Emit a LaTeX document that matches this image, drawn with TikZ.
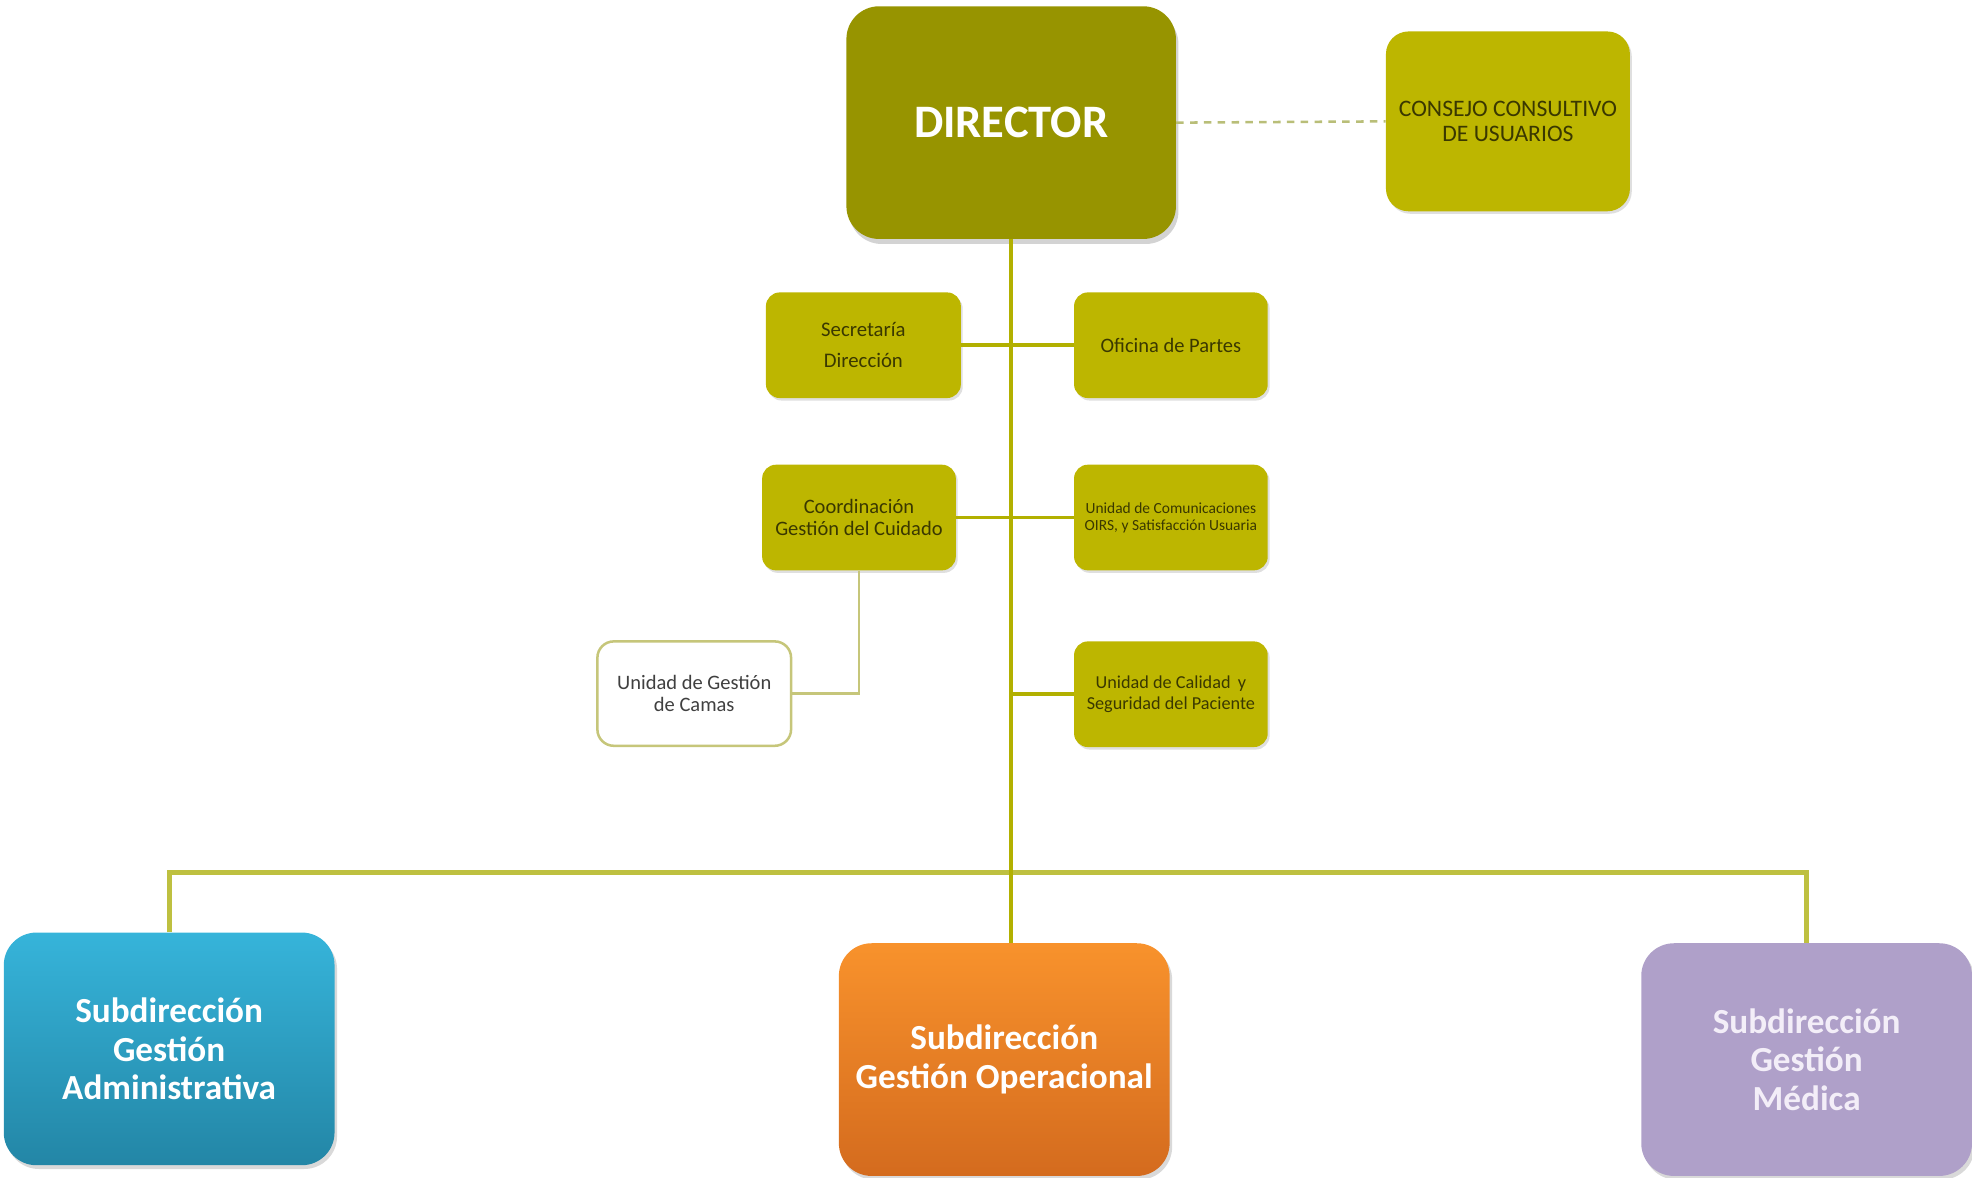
\documentclass[tikz,border=0pt]{standalone}
\usepackage{fontspec}
\setmainfont{Carlito}
\usetikzlibrary{shadows}
\definecolor{dirfill}{HTML}{979400}
\definecolor{olivefill}{HTML}{BDB600}
\definecolor{olivetext}{HTML}{3A3800}
\definecolor{linecol}{HTML}{B2B000}
\definecolor{buscol}{HTML}{BEC040}
\definecolor{dashcol}{HTML}{B9BE78}
\definecolor{camasborder}{HTML}{C6C67A}
\definecolor{bluetop}{HTML}{36B4DA}
\definecolor{bluebot}{HTML}{2386A6}
\definecolor{orangetop}{HTML}{F8922C}
\definecolor{orangebot}{HTML}{D46B1E}
\definecolor{purplefill}{HTML}{AFA0C9}
\definecolor{purpletext}{HTML}{F3EEF8}
\tikzset{
  box/.style={rectangle, align=center, inner sep=2pt},
  mybox/.style={box, fill=olivefill, rounded corners=11pt, text=olivetext,
    drop shadow={opacity=0.25, shadow xshift=1.5pt, shadow yshift=-2pt}},
  bigbox/.style={box, rounded corners=26pt, text=white,
    minimum width=263pt, minimum height=185pt,
    drop shadow={opacity=0.3, shadow xshift=2pt, shadow yshift=-3pt},
    font=\bfseries\fontsize{28}{30.5}\selectfont},
  trunk/.style={draw=linecol, line width=3pt},
  busline/.style={draw=buscol, line width=4pt},
  thinline/.style={draw=camasborder, line width=2pt},
}
\begin{document}
\begin{tikzpicture}[x=1pt, y=-1pt]
\useasboundingbox (0,0) rectangle (1568,936);
% top
\node[box, fill=dirfill, rounded corners=26pt, minimum width=262pt, minimum height=185pt,
  text=white, font=\bfseries\fontsize{37}{42}\selectfont,
  drop shadow={opacity=0.35, shadow xshift=2pt, shadow yshift=-4pt}] (dir) at (804,97.5) {DIRECTOR};
\node[mybox, rounded corners=18pt, minimum width=194pt, minimum height=143pt,
  font=\fontsize{18.8}{20}\selectfont] (cons) at (1199,96.5) {CONSEJO CONSULTIVO\\DE USUARIOS};
% staff
\node[mybox, minimum width=155pt, minimum height=84pt, font=\fontsize{16.5}{24.5}\selectfont] (sec) at (686.5,274.5) {Secretaría\\Dirección};
\node[mybox, minimum width=154pt, minimum height=84pt, font=\fontsize{16.3}{18}\selectfont] (ofi) at (931,274.5) {Oficina de Partes};
\node[mybox, minimum width=154pt, minimum height=84pt, font=\fontsize{16.3}{18}\selectfont] (coo) at (683,411.5) {Coordinación\\Gestión del Cuidado};
\node[mybox, minimum width=154pt, minimum height=84pt, font=\fontsize{12.3}{13.5}\selectfont] (com) at (931,411.5) {Unidad de Comunicaciones\\OIRS, y Satisfacción Usuaria};
\node[box, fill=white, draw=camasborder, line width=2pt, rounded corners=13pt, minimum width=154pt, minimum height=83pt,
  text=black!75, font=\fontsize{16.3}{18}\selectfont] (cam) at (552,551.5) {Unidad de Gestión\\de Camas};
\node[mybox, minimum width=154pt, minimum height=84pt, font=\fontsize{14.5}{16}\selectfont] (cal) at (931,552) {Unidad de Calidad \,y\\Seguridad del Paciente};
% bottom
\node[bigbox, top color=bluetop, bottom color=bluebot] (blu) at (134.5,834) {Subdirección\\Gestión\\Administrativa};
\node[bigbox, top color=orangetop, bottom color=orangebot] (ora) at (798.5,842.5) {Subdirección\\Gestión Operacional};
\node[bigbox, fill=purplefill, text=purpletext] (pur) at (1436.5,842.5) {Subdirección\\Gestión\\Médica};
% connectors
\coordinate (bus) at (804,694);
\coordinate (trk) at (804,750);
\draw[dashcol, line width=2pt, dash pattern=on 6pt off 5pt] (dir.east) -- (cons.west);
\draw[busline] (blu.north) |- (bus) -| (pur.north);
\draw[trunk] (dir.south) -- (trk);
\draw[trunk] (sec.east) -- (ofi.west);
\draw[trunk] (coo.east) -- (com.west);
\draw[trunk] (cal.west) -- (cal.west -| dir.south);
\draw[thinline] (coo.south) |- (cam.east);
\end{tikzpicture}
\end{document}
